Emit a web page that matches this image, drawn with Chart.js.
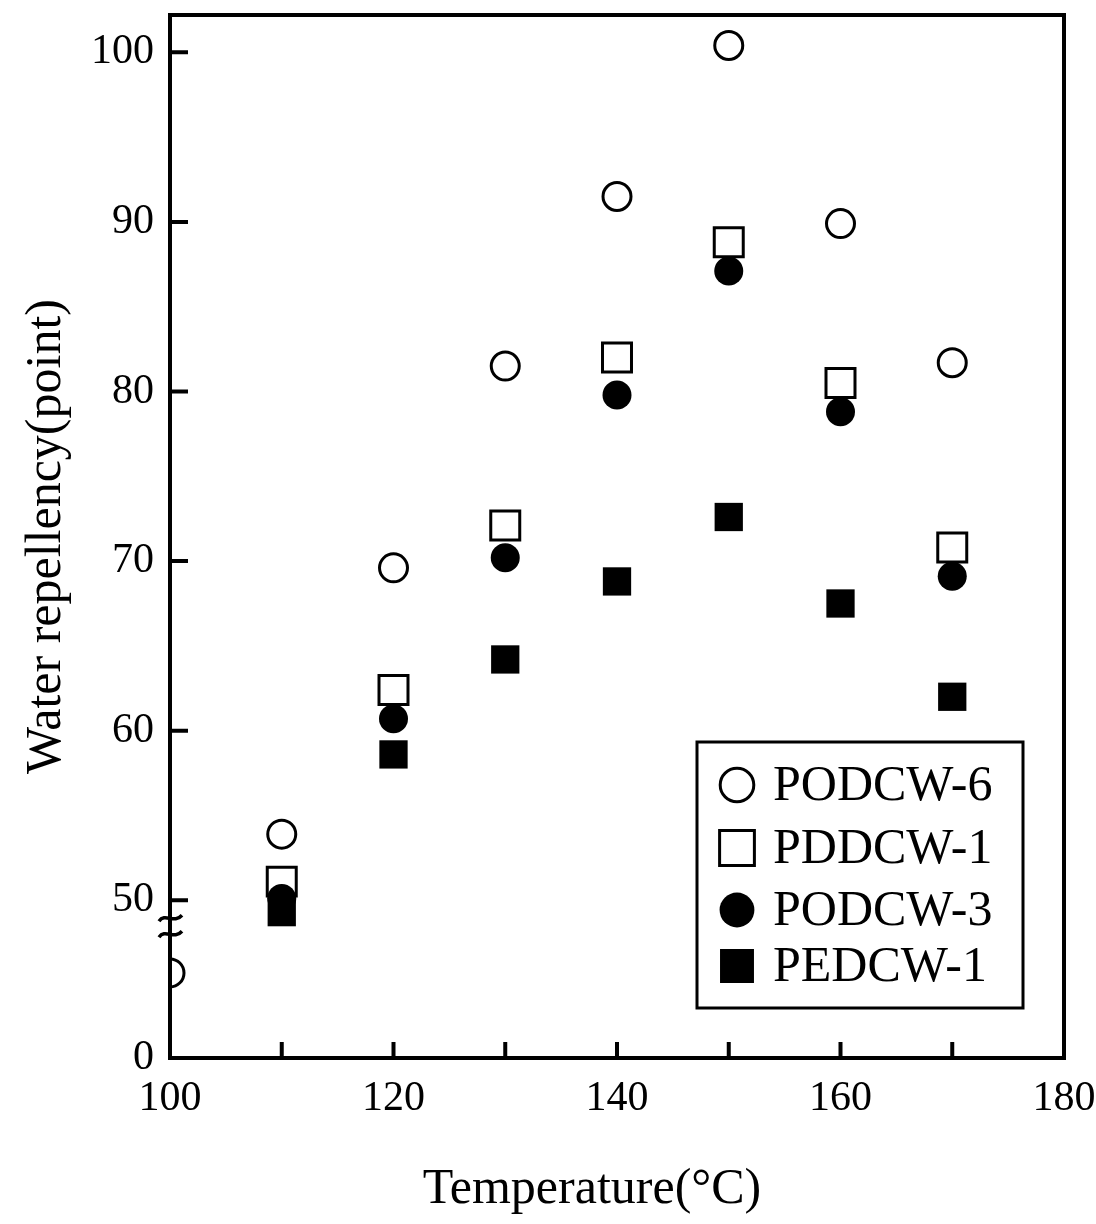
<!DOCTYPE html>
<html>
<head>
<meta charset="utf-8">
<title>Water repellency vs temperature</title>
<script src="https://cdn.jsdelivr.net/npm/chart.js@4.4.1/dist/chart.umd.min.js"></script>
<style>
  body { margin: 0; background: #fff; }
  canvas { display: block; }
</style>
</head>
<body>
<canvas id="chart" width="1096" height="1224"></canvas>
<script>
// values
const temperatures = [100, 110, 120, 130, 140, 150, 160, 170];
const podcw6 = [33, 53.9, 69.6, 81.5, 91.5, 100.4, 89.9, 81.7];
const pddcw1 = [null, 51.1, 62.4, 72.1, 82.0, 88.8, 80.5, 70.8];
const podcw3 = [null, 50.1, 60.7, 70.2, 79.8, 87.1, 78.8, 69.1];
const pedcw1 = [null, 49.3, 58.6, 64.2, 68.8, 72.6, 67.5, 62.0];

const yTickLabels = [0, 50, 60, 70, 80, 90, 100];
const xTickLabels = [100, 120, 140, 160, 180];
const xTickMarks = [110, 120, 130, 140, 150, 160, 170];
const xTitle = 'Temperature(°C)';

// the y axis is broken below 50: 0..48 gets squeezed into a short stretch
const AXIS_ZERO = 40.7;
const BREAK_AT = 48;
function toAxis(v) {
  return v >= BREAK_AT ? v : AXIS_ZERO + v / BREAK_AT * (BREAK_AT - AXIS_ZERO);
}

function points(values) {
  const out = [];
  values.forEach((v, i) => {
    if (v !== null) out.push({ x: temperatures[i], y: toAxis(v) });
  });
  return out;
}

Chart.defaults.font.family = "'Liberation Serif', 'Times New Roman', serif";
Chart.defaults.color = '#000';

// frame, inward ticks, axis break, x title and the boxed legend
const decorations = {
  id: 'decorations',
  afterDraw(chart) {
    const { ctx, chartArea: a, scales: { x, y } } = chart;
    ctx.save();
    ctx.strokeStyle = '#000';
    ctx.lineWidth = 4;
    ctx.strokeRect(a.left, a.top, a.right - a.left, a.bottom - a.top);

    ctx.beginPath();
    yTickLabels.filter(v => v >= 50).forEach(v => {
      const py = y.getPixelForValue(toAxis(v));
      ctx.moveTo(a.left, py);
      ctx.lineTo(a.left + 18, py);
    });
    xTickMarks.forEach(v => {
      const px = x.getPixelForValue(v);
      ctx.moveTo(px, a.bottom);
      ctx.lineTo(px, a.bottom - 16);
    });
    ctx.stroke();

    // two little squiggles across the axis
    const p50 = y.getPixelForValue(50);
    ctx.lineWidth = 3.5;
    [18, 34].forEach(off => {
      const py = p50 + off;
      ctx.beginPath();
      ctx.moveTo(a.left - 11, py + 3);
      ctx.bezierCurveTo(a.left - 5, py - 6, a.left + 4, py + 6, a.left + 12, py - 3);
      ctx.stroke();
    });

    // x axis title, sits a bit left of centre in the original
    ctx.fillStyle = '#000';
    ctx.font = "50px 'Liberation Serif', serif";
    ctx.textAlign = 'center';
    ctx.textBaseline = 'middle';
    ctx.fillText(xTitle, a.left + 422, a.bottom + 132);

    // legend
    const box = { left: a.right - 367, top: a.bottom - 316, w: 326, h: 266 };
    ctx.lineWidth = 3;
    ctx.strokeRect(box.left, box.top, box.w, box.h);
    ctx.textAlign = 'left';
    const rows = [43, 106, 168, 224];
    chart.data.datasets.forEach((ds, i) => {
      const cy = box.top + rows[i];
      ctx.fillStyle = ds.backgroundColor;
      ctx.strokeStyle = ds.borderColor;
      Chart.helpers.drawPoint(ctx, {
        pointStyle: ds.pointStyle,
        radius: ds.pointRadius * 1.2,
        borderWidth: ds.borderWidth,
        rotation: 0
      }, box.left + 40, cy);
      ctx.fillStyle = '#000';
      ctx.fillText(ds.label, box.left + 76, cy + 2);
    });
    ctx.restore();
  }
};

new Chart(document.getElementById('chart'), {
  type: 'scatter',
  data: {
    datasets: [
      {
        label: 'PODCW-6', data: points(podcw6), order: 1,
        pointStyle: 'circle', pointRadius: 14, borderWidth: 3,
        backgroundColor: '#fff', borderColor: '#000'
      },
      {
        label: 'PDDCW-1', data: points(pddcw1), order: 1,
        pointStyle: 'rect', pointRadius: 20.5, borderWidth: 3,
        backgroundColor: '#fff', borderColor: '#000'
      },
      {
        label: 'PODCW-3', data: points(podcw3), order: 0,
        pointStyle: 'circle', pointRadius: 14.5, borderWidth: 0,
        backgroundColor: '#000', borderColor: '#000'
      },
      {
        label: 'PEDCW-1', data: points(pedcw1), order: 0,
        pointStyle: 'rect', pointRadius: 20, borderWidth: 0,
        backgroundColor: '#000', borderColor: '#000'
      }
    ]
  },
  options: {
    responsive: false,
    animation: false,
    devicePixelRatio: 1,
    layout: {
      autoPadding: false,
      padding: { top: 15, right: 32, left: 0, bottom: 0 }
    },
    plugins: {
      legend: { display: false },
      tooltip: { enabled: false }
    },
    scales: {
      x: {
        type: 'linear',
        min: 100,
        max: 180,
        afterBuildTicks: scale => {
          scale.ticks = xTickLabels.map(v => ({ value: v }));
        },
        afterFit: scale => {
          scale.height = 166;
          scale.paddingLeft = 0;
          scale.paddingRight = 0;
        },
        grid: { display: false, drawTicks: false },
        border: { display: false },
        ticks: {
          font: { size: 42 },
          padding: 16,
          maxRotation: 0,
          autoSkip: false
        },
        title: { display: false, text: xTitle }
      },
      y: {
        type: 'linear',
        min: AXIS_ZERO,
        max: 102.2,
        afterBuildTicks: scale => {
          scale.ticks = yTickLabels.map(v => ({ value: toAxis(v) }));
        },
        afterFit: scale => {
          scale.width = 170;
          scale.paddingTop = 0;
          scale.paddingBottom = 0;
        },
        grid: { display: false, drawTicks: false },
        border: { display: false },
        ticks: {
          font: { size: 42 },
          padding: 16,
          callback: (value, index) => yTickLabels[index]
        },
        title: {
          display: true,
          text: 'Water repellency(point)',
          font: { size: 50 },
          padding: { top: 17, bottom: 0 }
        }
      }
    }
  },
  plugins: [decorations]
});
</script>
</body>
</html>
